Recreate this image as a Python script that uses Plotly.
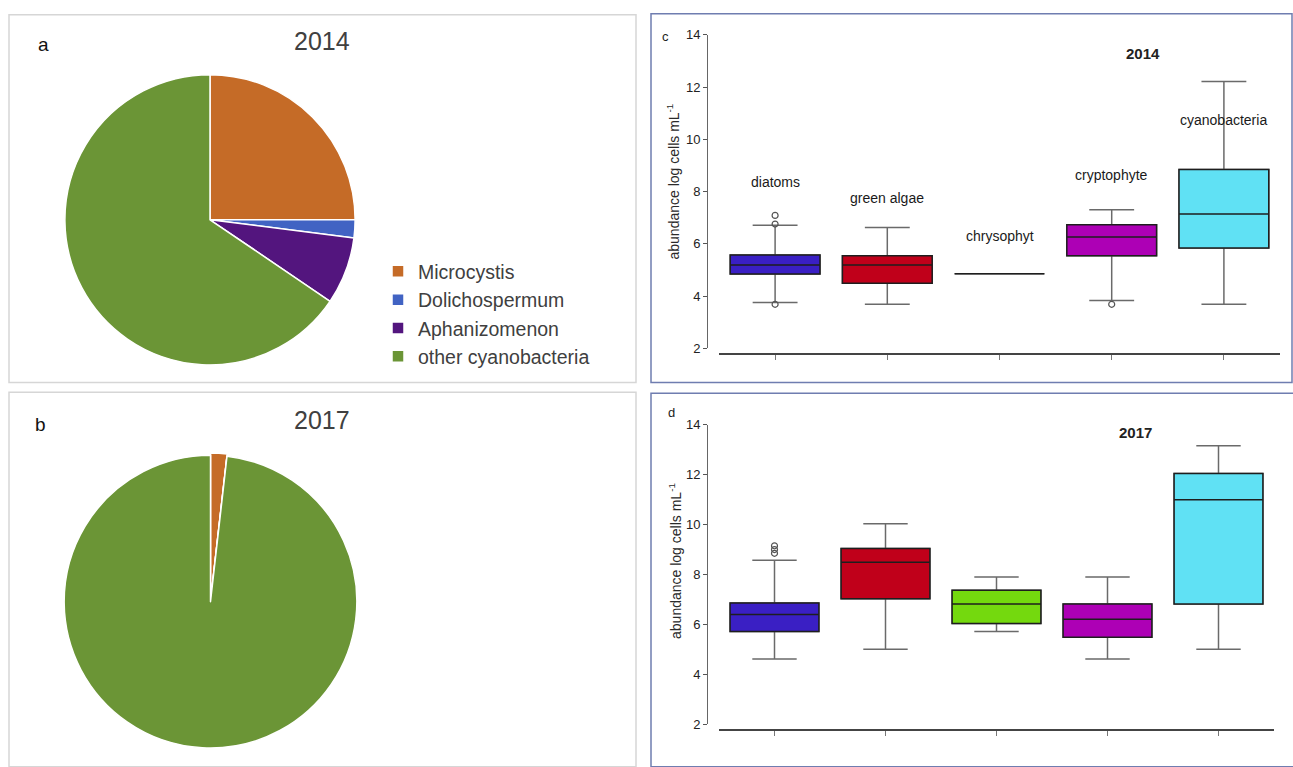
import plotly.graph_objects as go

# ---- figure geometry (pixels) ----
W, H = 1293, 767


def px(x):
    return x / W


def py(y):
    return 1 - y / H


# ---- pie data: share of cyanobacterial genera ----
genera = ["Microcystis", "Dolichospermum", "Aphanizomenon", "other cyanobacteria"]
genus_colors = ["#c56b27", "#4163c3", "#53157e", "#6b9536"]
share_2014 = [25.0, 2.0, 7.5, 65.5]
share_2017 = [1.8, 0.0, 0.0, 98.2]

# ---- box data: abundance (log cells mL-1) per algal group ----
groups = ["diatoms", "green algae", "chrysophyt", "cryptophyte", "cyanobacteria"]
group_colors = ["#3a1fc4", "#c0001a", "#74d90e", "#ad00b5", "#60e1f4"]

low_2014 = [3.76, 3.69, 4.86, 3.84, 3.69]
q1_2014 = [4.85, 4.50, 4.86, 5.55, 5.84]
med_2014 = [5.19, 5.19, 4.86, 6.26, 7.14]
q3_2014 = [5.58, 5.55, 4.86, 6.73, 8.85]
high_2014 = [6.71, 6.63, 4.86, 7.31, 12.21]
out_x_2014 = [0, 0, 0, 3]
out_y_2014 = [7.09, 6.76, 3.69, 3.69]

low_2017 = [4.62, 5.01, 5.72, 4.62, 5.01]
q1_2017 = [5.72, 7.03, 6.04, 5.49, 6.82]
med_2017 = [6.40, 8.49, 6.82, 6.21, 10.99]
q3_2017 = [6.86, 9.04, 7.37, 6.82, 12.04]
high_2017 = [8.57, 10.03, 7.90, 7.90, 13.16]
out_x_2017 = [0, 0, 0]
out_y_2017 = [9.15, 9.00, 8.85]

y_ticks = [2, 4, 6, 8, 10, 12, 14]

NARROW = "Liberation Sans Narrow, Liberation Sans, Arial, sans-serif"
SANS = "Liberation Sans, Arial, sans-serif"

fig = go.Figure()

# ---- pies ----
fig.add_trace(go.Pie(
    labels=genera, values=share_2014, sort=False, direction="clockwise",
    rotation=0, textinfo="none", hoverinfo="label+percent",
    marker=dict(colors=genus_colors, line=dict(color="white", width=1.5)),
    domain=dict(x=[px(62), px(358)], y=[py(365), py(69)]),
    showlegend=True,
))
fig.add_trace(go.Pie(
    labels=genera, values=share_2017, sort=False, direction="clockwise",
    rotation=0, textinfo="none", hoverinfo="label+percent",
    pull=[0.015, 0, 0, 0],
    marker=dict(colors=genus_colors, line=dict(color="white", width=1.5)),
    domain=dict(x=[px(59), px(362)], y=[py(758), py(455)]),
    showlegend=False,
))


# ---- box plots: gray whiskers underneath, dark-outlined boxes on top ----
def add_boxes(low, q1, med, q3, high, xa, ya):
    for i, name in enumerate(groups):
        fig.add_trace(go.Box(
            x=[i], lowerfence=[low[i]], q1=[q1[i]], median=[med[i]],
            q3=[q3[i]], upperfence=[high[i]], name=name,
            width=0.8, whiskerwidth=0.5, boxpoints=False,
            fillcolor=group_colors[i],
            line=dict(color="#6a6a6a", width=1.5),
            xaxis=xa, yaxis=ya, showlegend=False, hoverinfo="skip",
        ))
        fig.add_trace(go.Box(
            x=[i], lowerfence=[q1[i]], q1=[q1[i]], median=[med[i]],
            q3=[q3[i]], upperfence=[q3[i]], name=name,
            width=0.8, whiskerwidth=0, boxpoints=False,
            fillcolor=group_colors[i],
            line=dict(color="#1e1e1e", width=1.5),
            xaxis=xa, yaxis=ya, showlegend=False,
        ))


def add_outliers(ox, oy, xa, ya):
    fig.add_trace(go.Scatter(
        x=ox, y=oy, mode="markers",
        marker=dict(symbol="circle-open", size=6, color="#555",
                    line=dict(width=1.2)),
        xaxis=xa, yaxis=ya, showlegend=False, hoverinfo="y",
    ))


add_boxes(low_2014, q1_2014, med_2014, q3_2014, high_2014, "x", "y")
add_outliers(out_x_2014, out_y_2014, "x", "y")
add_boxes(low_2017, q1_2017, med_2017, q3_2017, high_2017, "x2", "y2")
add_outliers(out_x_2017, out_y_2017, "x2", "y2")

xaxis_common = dict(
    range=[-0.5, 4.5], tickvals=list(range(len(groups))), showticklabels=False,
    ticks="outside", ticklen=5, tickwidth=1, tickcolor="#777",
    showline=True, linecolor="#444", linewidth=2, showgrid=False,
    zeroline=False, anchor="free", fixedrange=True,
)
yaxis_common = dict(
    range=[2, 14], tickvals=y_ticks, ticks="outside", ticklen=4,
    tickwidth=1, tickcolor="#555", showline=True, linecolor="#666",
    linewidth=1, showgrid=False, zeroline=False, anchor="free",
    tickfont=dict(family=NARROW, size=13, color="#222"), fixedrange=True,
)

fig.update_layout(
    width=W, height=H, margin=dict(l=0, r=0, t=0, b=0),
    paper_bgcolor="white", plot_bgcolor="rgba(0,0,0,0)",
    boxmode="overlay",
    xaxis=dict(domain=[px(719), px(1280)], position=py(354), **xaxis_common),
    yaxis=dict(domain=[py(348.3), py(28.3)], position=px(707), **yaxis_common),
    xaxis2=dict(domain=[px(719), px(1274)], position=py(737.7), **xaxis_common),
    yaxis2=dict(domain=[py(731.7), py(426)], position=px(707), **yaxis_common),
    legend=dict(
        x=px(378), y=py(250), xanchor="left", yanchor="top",
        orientation="v", bgcolor="rgba(0,0,0,0)",
        font=dict(family=SANS, size=19.5, color="#404040"),
        itemclick=False, itemdoubleclick=False,
    ),
)

# ---- panel frames ----
frames = [
    (9, 8, 636, 383, "#d6d6d6"),
    (9, 393, 636, 775, "#d6d6d6"),
    (651, 7, 1292, 383, "#6f7db0"),
    (651, 394, 1300, 775, "#6f7db0"),
]
for x0, y0, x1, y1, c in frames:
    fig.add_shape(type="rect", xref="paper", yref="paper",
                  x0=px(x0), y0=py(y0), x1=px(x1), y1=py(y1),
                  line=dict(color=c, width=1.5), fillcolor="rgba(0,0,0,0)",
                  layer="below")


# ---- text ----
def label(text, x, y, size, family=SANS, color="#222", xref="paper",
          yref="paper", angle=0):
    return dict(text=text, x=x, y=y, xref=xref, yref=yref, showarrow=False,
                xanchor="center", yanchor="middle", textangle=angle,
                font=dict(family=family, size=size, color=color))


ann = [
    label("a", px(43), py(38), 19, color="#111"),
    label("2014", px(322), py(35), 25, color="#404040"),
    label("b", px(40), py(426), 19, color="#111"),
    label("2017", px(322), py(421), 25, color="#404040"),
    label("c", px(666), py(30), 13, family=NARROW),
    label("d", px(671), py(414), 13, family=NARROW),
    label("abundance log cells mL<sup>-1</sup>", px(673), py(178), 14,
          color="#2a2a2a", angle=-90),
    label("abundance log cells mL<sup>-1</sup>", px(675), py(565), 14,
          color="#2a2a2a", angle=-90),
    label("<b>2014</b>", 3.28, 13.3, 15, family=NARROW, xref="x", yref="y"),
    label("<b>2017</b>", 3.25, 13.69, 15, family=NARROW, xref="x2", yref="y2"),
]

label_y_2014 = [8.35, 7.75, 6.3, 8.62, 10.75]
for i, name in enumerate(groups):
    ann.append(label(name, i, label_y_2014[i], 14, family=NARROW,
                     color="#1a1a1a", xref="x", yref="y"))

fig.update_layout(annotations=ann)

fig.write_html("out.html")
